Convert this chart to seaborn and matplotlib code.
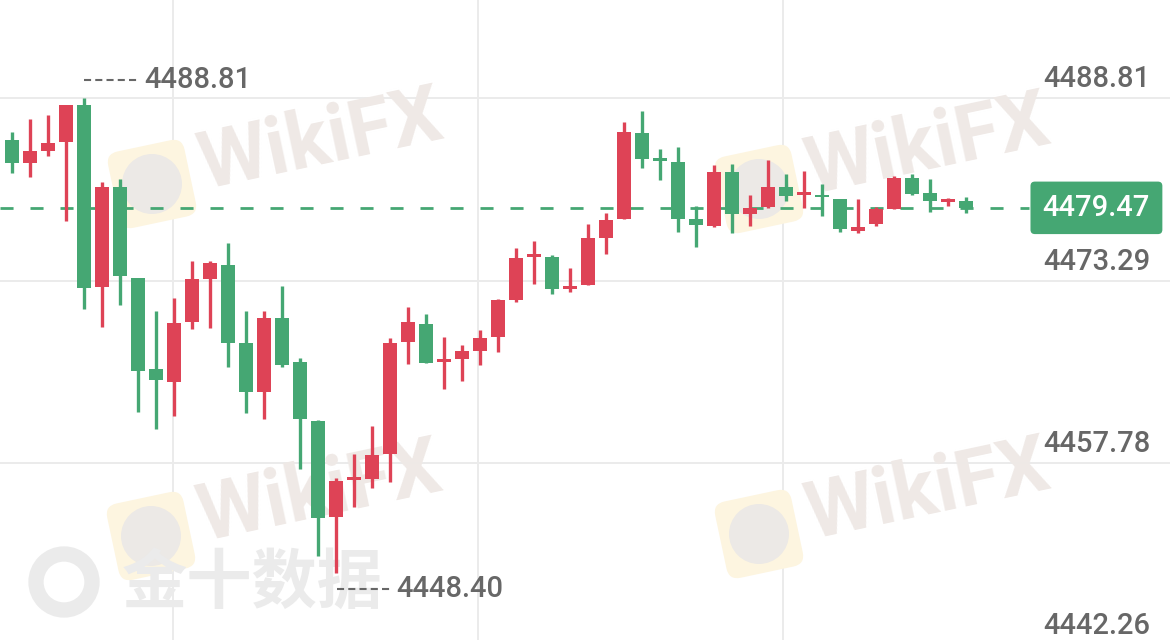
import numpy as np
import pandas as pd
import seaborn as sns
import matplotlib.pyplot as plt
from matplotlib.patches import FancyBboxPatch, Circle
import matplotlib.transforms as mtransforms

# candle data (one row per bar)
opens = [4485.24, 4483.26, 4484.33, 4485.04, 4488.21, 4472.76, 4481.22, 4473.48, 4465.77, 4464.69,
         4469.79, 4473.39, 4474.61, 4468.00, 4463.84, 4470.08, 4466.34, 4461.34, 4453.21, 4456.33,
         4456.39, 4458.54, 4468.04, 4469.57, 4466.39, 4466.62, 4467.30, 4468.46, 4471.63, 4475.32,
         4475.32, 4472.54, 4472.91, 4476.93, 4478.50, 4485.86, 4483.54, 4483.39, 4478.50, 4477.93,
         4482.49, 4478.95, 4479.57, 4481.22, 4480.56, 4480.42, 4480.22, 4477.50, 4478.10, 4479.35,
         4481.98, 4480.76, 4480.00, 4480.08]
closes = [4483.26, 4484.33, 4485.01, 4488.21, 4472.68, 4481.22, 4473.70, 4465.62, 4464.83, 4469.70,
          4473.39, 4474.75, 4467.95, 4463.84, 4470.08, 4466.11, 4461.49, 4453.07, 4456.27, 4456.40,
          4458.45, 4467.95, 4469.74, 4466.30, 4466.45, 4467.30, 4468.43, 4471.63, 4475.18, 4475.40,
          4472.57, 4472.85, 4476.88, 4478.44, 4485.89, 4483.60, 4483.45, 4478.50, 4478.01, 4482.49,
          4478.95, 4479.43, 4481.22, 4480.48, 4480.62, 4480.35, 4477.64, 4477.87, 4479.35, 4481.98,
          4480.65, 4480.08, 4480.10, 4479.47]
highs = [4485.89, 4487.00, 4487.36, 4488.21, 4488.81, 4481.64, 4481.92, 4473.48, 4470.70, 4471.83,
         4474.95, 4474.95, 4476.51, 4470.70, 4470.72, 4472.82, 4466.68, 4461.43, 4456.52, 4458.54,
         4460.92, 4468.38, 4471.06, 4470.42, 4468.51, 4467.81, 4469.08, 4471.70, 4476.03, 4476.65,
         4475.46, 4474.38, 4478.07, 4479.06, 4486.79, 4487.70, 4484.47, 4484.67, 4479.65, 4483.11,
         4483.17, 4480.56, 4483.54, 4482.35, 4482.60, 4481.50, 4480.22, 4480.22, 4479.57, 4482.18,
         4482.32, 4481.90, 4480.28, 4480.37]
lows = [4482.41, 4482.07, 4483.88, 4478.35, 4470.87, 4469.31, 4471.21, 4462.14, 4460.66, 4461.77,
        4469.17, 4469.28, 4465.96, 4462.05, 4461.49, 4465.91, 4457.24, 4449.86, 4448.40, 4454.06,
        4455.62, 4456.18, 4466.17, 4466.30, 4464.07, 4464.74, 4466.11, 4467.24, 4471.44, 4472.97,
        4472.12, 4472.29, 4472.91, 4475.52, 4478.50, 4482.88, 4481.84, 4477.44, 4476.17, 4477.87,
        4477.36, 4477.93, 4479.43, 4480.08, 4479.43, 4478.78, 4477.39, 4477.31, 4477.95, 4479.35,
        4480.56, 4479.09, 4479.65, 4479.01]

price_levels = [4488.81, 4473.29, 4457.78, 4442.26]
time_grid = [8.94, 25.89, 42.83]

RED = '#DE4356'
GREEN = '#45A773'
GRID = '#EBEBEB'
LABEL = '#676767'
H = 640  # figure height in px, for the watermark helpers

df = pd.DataFrame({'open': opens, 'close': closes, 'high': highs, 'low': lows})
df['i'] = np.arange(len(df))
df['up'] = df['close'] >= df['open']
df['color'] = np.where(df['up'], RED, GREEN)
df['bottom'] = df[['open', 'close']].min(axis=1)
df['height'] = (df['close'] - df['open']).abs().clip(lower=0.22)

sns.set_theme(style="white")
plt.rcParams['font.family'] = ['Roboto', 'DejaVu Sans']

fig = plt.figure(figsize=(11.7, 6.4), dpi=100)
ax = fig.add_axes([0, 0, 1, 1])
ax.set_xlim(-12 / 18, (1170 - 12) / 18)
ax.set_ylim(4488.81 - 542 / 11.76, 4488.81 + 98 / 11.76)
ax.axis('off')

# grid
for lv in price_levels:
    ax.axhline(lv, color=GRID, lw=1.4, zorder=0)
for tx in time_grid:
    ax.axvline(tx, color=GRID, lw=1.4, zorder=0)

# watermarks (pixel positions, top-left origin)
ident = mtransforms.IdentityTransform()


def wikifx_mark(sx, sy):
    cx, cy = sx + 39, H - (sy + 39)
    rot = mtransforms.Affine2D().rotate_deg_around(cx, cy, 12)
    sq = FancyBboxPatch((sx, H - sy - 78), 78, 78, boxstyle='round,pad=0,rounding_size=12',
                        transform=rot, fc='#FDF5E0', ec='none', zorder=0.3)
    ax.add_patch(sq)
    ax.add_patch(Circle((cx, cy), 30, transform=ident, fc='#ECE9E6', ec='none', zorder=0.4))
    ax.text(sx + 208, H - sy + 3, 'WikiFX', transform=ident, fontsize=57, fontweight='bold',
            color='#EFE9E6', rotation=12, rotation_mode='anchor', ha='center', va='center',
            zorder=0.4)


for sx, sy in [(113, 145), (720, 150), (112, 497), (720, 495)]:
    wikifx_mark(sx, sy)

ax.add_patch(Circle((64, H - 582), 28, transform=ident, fc='none', ec='#EBEBEB', lw=11,
                    zorder=0.4))
ax.text(122, H - 584, '金十数据', transform=ident, fontsize=47, fontweight='bold',
        color='#EBEBEB', family=['Noto Sans CJK SC', 'DejaVu Sans'], va='center', ha='left',
        zorder=0.4)

# candles
ax.vlines(df['i'], df['low'], df['high'], colors=df['color'], lw=2.4, zorder=3)
ax.bar(df['i'], df['height'], bottom=df['bottom'], width=0.83, color=df['color'],
       edgecolor='none', zorder=4)

# last price dashed line and tag
last = closes[-1]
ax.plot([ax.get_xlim()[0], 56.5], [last, last], color=GREEN, lw=2,
        linestyle=(0, (4.7, 6.1)), zorder=2)
blend = mtransforms.blended_transform_factory(ax.transAxes, ax.transData)
ax.text(0.983, last, f'{last:.2f}', transform=blend, ha='right', va='center',
        fontsize=21, color='white', fontweight='medium', zorder=6,
        bbox=dict(boxstyle='round,pad=0.42,rounding_size=0.15', fc=GREEN, ec='none'))

# right price labels
for lv in price_levels:
    ax.text(0.983, lv + 11 / 11.76, f'{lv:.2f}', transform=blend, ha='right', va='baseline',
            fontsize=21, color=LABEL, fontweight='medium', zorder=5)

# high / low markers
imax = int(df['high'].idxmax())
imin = int(df['low'].idxmin())
hi, lo = df['high'].max(), df['low'].min()
ax.plot([imax, imax + 3.05], [hi + 18 / 11.76] * 2, color=LABEL, lw=1.5,
        linestyle=(0, (3.4, 2.0)), zorder=5)
ax.text(imax + 3.35, hi + 18 / 11.76, f'{hi:.2f}', ha='left', va='center',
        fontsize=21, color=LABEL, fontweight='medium', zorder=5)
ax.plot([imin + 0.05, imin + 3.0], [lo - 16 / 11.76] * 2, color=LABEL, lw=1.5,
        linestyle=(0, (3.4, 2.0)), zorder=5)
ax.text(imin + 3.35, lo - 16 / 11.76, f'{lo:.2f}', ha='left', va='center',
        fontsize=21, color=LABEL, fontweight='medium', zorder=5)

fig.savefig('out.png', dpi=100)
